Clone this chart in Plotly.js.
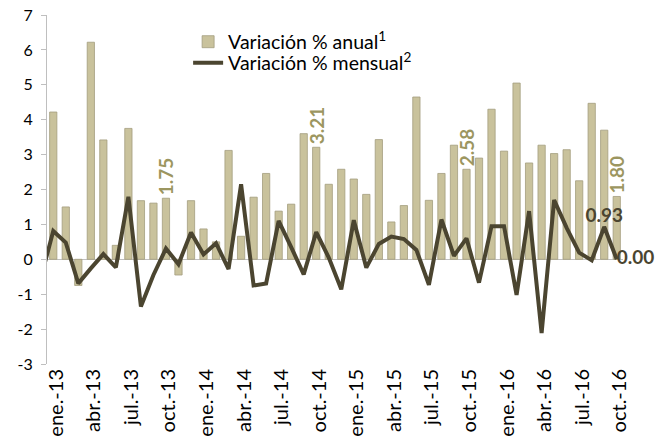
<!DOCTYPE html>
<html><head><meta charset="utf-8">
<script src="https://cdn.plot.ly/plotly-3.0.1.min.js"></script>
<style>html,body{margin:0;padding:0;background:#fff}#chart{width:670px;height:440px}</style>
</head><body><div id="chart"></div>
<script>
const months = ["ene.-13","feb.-13","mar.-13","abr.-13","may.-13","jun.-13","jul.-13","ago.-13","sep.-13","oct.-13","nov.-13","dic.-13",
"ene.-14","feb.-14","mar.-14","abr.-14","may.-14","jun.-14","jul.-14","ago.-14","sep.-14","oct.-14","nov.-14","dic.-14",
"ene.-15","feb.-15","mar.-15","abr.-15","may.-15","jun.-15","jul.-15","ago.-15","sep.-15","oct.-15","nov.-15","dic.-15",
"ene.-16","feb.-16","mar.-16","abr.-16","may.-16","jun.-16","jul.-16","ago.-16","sep.-16","oct.-16"];
const priorMonth = "dic.-12";
const priorMonthly = -0.55;
const annual = [4.22,1.50,-0.75,6.22,3.42,0.40,3.75,1.68,1.61,1.75,-0.45,1.68,
0.87,0.50,3.12,0.66,1.78,2.46,1.38,1.58,3.60,3.21,2.15,2.58,
2.30,1.86,3.43,1.07,1.54,4.65,1.69,2.46,3.27,2.58,2.90,4.30,
3.10,5.05,2.76,3.27,3.03,3.14,2.25,4.47,3.70,1.80];
const monthly = [0.81,0.48,-0.69,-0.26,0.15,-0.23,1.79,-1.35,-0.45,0.31,-0.14,0.77,
0.14,0.46,-0.28,2.15,-0.75,-0.69,1.10,0.35,-0.43,0.78,0.05,-0.86,
1.12,-0.24,0.44,0.65,0.58,0.27,-0.73,1.14,0.10,0.60,-0.67,0.95,
0.95,-1.02,1.38,-2.11,1.70,0.90,0.19,-0.03,0.93,0.00];
const tickLabels = ["ene.-13","abr.-13","jul.-13","oct.-13","ene.-14","abr.-14","jul.-14","oct.-14",
"ene.-15","abr.-15","jul.-15","oct.-15","ene.-16","abr.-16","jul.-16","oct.-16"];
const yTicks = [-3,-2,-1,0,1,2,3,4,5,6,7];
const annualLabelMonths = ["oct.-13","oct.-14","oct.-15","oct.-16"];
const monthlyLabelMonths = ["sep.-16","oct.-16"];
const monthlyLabelPos = ["top center","middle right"];

const allCats = [priorMonth].concat(months);
const barText = months.map((m,i)=> annualLabelMonths.includes(m) ? annual[i].toFixed(2) : "");
const mLabelY = monthlyLabelMonths.map(m => monthly[months.indexOf(m)]);
const FONT = "Lato, 'Open Sans', sans-serif";

const traces = [
 {type:"bar", x:months, y:annual, name:"Variación % anual<sup>1</sup>", legend:"legend",
  marker:{color:"#c9c29c", line:{color:"#a39d7e", width:0.8}},
  text:barText, textposition:"outside", textangle:-90, constraintext:"none", cliponaxis:false,
  textfont:{family:FONT, size:19, color:"#9c9660", weight:"bold"}, hoverinfo:"skip"},
 {type:"scatter", mode:"lines", x:allCats, y:[priorMonthly].concat(monthly), legend:"legend2",
  name:"Variación % mensual<sup>2</sup>", line:{color:"#4b4530", width:4}, hoverinfo:"skip"},
 {type:"scatter", mode:"text", x:monthlyLabelMonths, y:mLabelY, text:mLabelY.map(v=>v.toFixed(2)),
  textposition:monthlyLabelPos, cliponaxis:false, showlegend:false,
  textfont:{family:FONT, size:19, color:"#4b4530", weight:"bold"}, hoverinfo:"skip"}
];

const legFont = {family:FONT, size:19.5, color:"#000"};
const layout = {
 width:670, height:440, paper_bgcolor:"#fff", plot_bgcolor:"#fff",
 margin:{l:47, r:46.5, t:15, b:76, pad:0},
 bargap:0.42, showlegend:true,
 font:{family:FONT, color:"#000"},
 xaxis:{type:"category", categoryorder:"array", categoryarray:allCats, range:[0.5,46.5],
  tickmode:"array", tickvals:tickLabels, ticktext:tickLabels, tickangle:-90, ticklabelshift:3,
  tickfont:{family:FONT, size:20, color:"#000"}, showline:false, ticks:"", showgrid:false, zeroline:false},
 xaxis2:{overlaying:"x", anchor:"free", position:0.3, type:"linear", range:[0.5,46.5],
  tick0:0.5, dtick:3, ticks:"outside", ticklen:5, tickcolor:"#a6a6a6", showticklabels:false,
  showgrid:false, zeroline:false, showline:false},
 yaxis:{range:[-3,7], tickmode:"array", tickvals:yTicks, ticktext:yTicks.map(String),
  showline:true, linecolor:"#bfbfbf", linewidth:1, ticks:"outside", ticklen:5, tickcolor:"#bfbfbf",
  showgrid:false, zeroline:true, zerolinecolor:"#bfbfbf", zerolinewidth:1,
  tickfont:{family:FONT, size:16, color:"#000"}, ticklabelstandoff:5},
 legend:{x:0.245, y:0.9226, xanchor:"left", yanchor:"middle", bgcolor:"rgba(0,0,0,0)",
  font:legFont, itemwidth:30},
 legend2:{x:0.245, y:0.8625, xanchor:"left", yanchor:"middle", bgcolor:"rgba(0,0,0,0)",
  font:legFont, itemwidth:30}
};
Plotly.newPlot("chart", traces, layout, {displayModeBar:false, staticPlot:true});
</script></body></html>
